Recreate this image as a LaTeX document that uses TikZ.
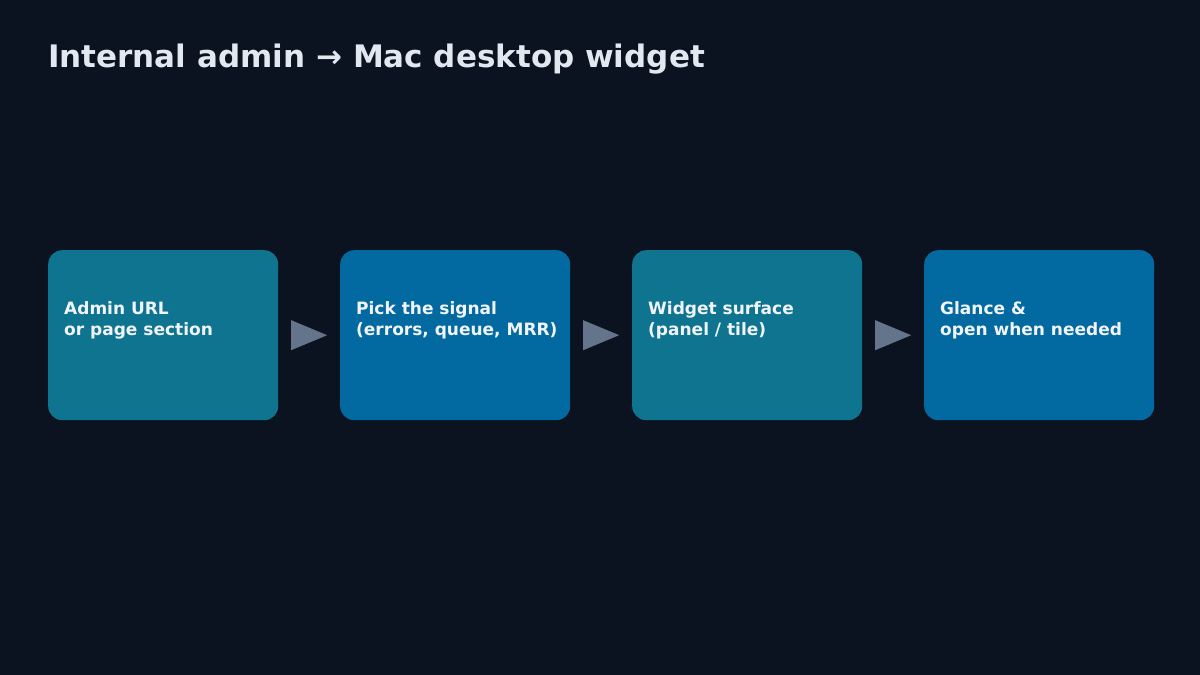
\documentclass[tikz,border=0pt]{standalone}
\usepackage{fontspec}
\setmainfont{DejaVu Sans}
\usetikzlibrary{calc}
\definecolor{bg}{HTML}{0B1220}
\definecolor{teal}{HTML}{0E7490}
\definecolor{sky}{HTML}{0369A1}
\definecolor{arr}{HTML}{64748B}
\definecolor{txt}{HTML}{F1F5F9}
\definecolor{ttl}{HTML}{E2E8F0}
\begin{document}
\begin{tikzpicture}[x=1pt,y=-1pt,
  box/.style={rounded corners=14pt,minimum width=230pt,minimum height=170pt,inner sep=0pt},
  lbl/.style={anchor=north west,align=left,text=txt,font=\bfseries\fontsize{17}{21}\selectfont,inner sep=0pt}]
\fill[bg] (0,0) rectangle (1200,675);
\useasboundingbox (0,0) rectangle (1200,675);
\node[anchor=base west,text=ttl,font=\bfseries\fontsize{31}{36}\selectfont,inner sep=0pt] (title) at (48,67) {Internal admin → Mac desktop widget};
\foreach \i/\x/\c/\t in {1/48/teal/{Admin URL\\or page section},2/340/sky/{Pick the signal\\(errors, queue, MRR)},3/632/teal/{Widget surface\\(panel / tile)},4/924/sky/{Glance \&\\open when needed}}{
  \node[box,fill=\c,anchor=north west] (b\i) at (\x,250) {};
  \node[lbl] (t\i) at (\x+16,301) {\t};
}
\foreach \a/\b in {1/2,2/3,3/4}{
  \coordinate (m\a) at ($(b\a.east)!0.5!(b\b.west)$);
  \fill[arr] ([xshift=-18pt,yshift=-15pt]m\a) -- ([xshift=18pt]m\a) -- ([xshift=-18pt,yshift=15pt]m\a) -- cycle;
}
\end{tikzpicture}
\end{document}
